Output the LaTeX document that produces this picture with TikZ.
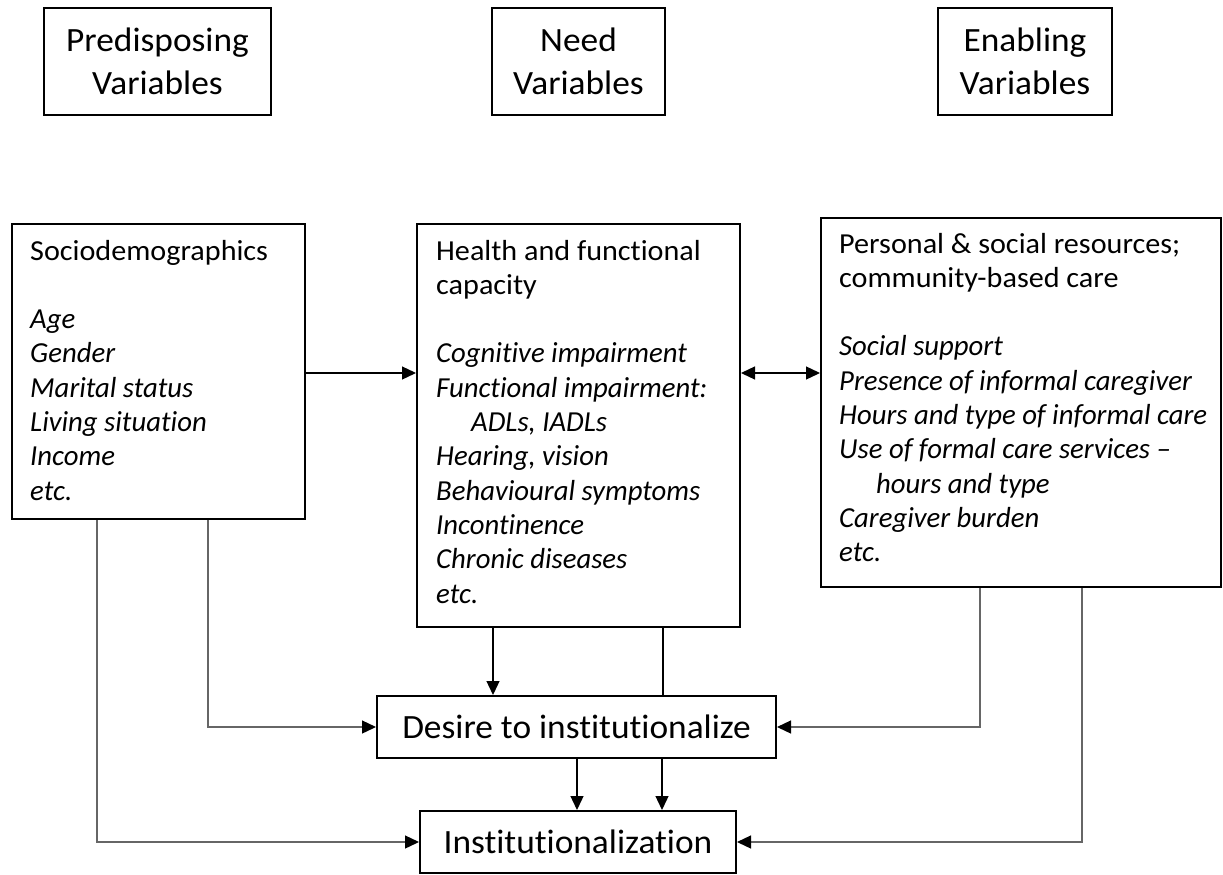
\documentclass[tikz,border=0pt]{standalone}
\usepackage{fontspec}
\setmainfont{Carlito}[Ligatures=NoCommon,
  UprightFeatures={FakeStretch=1.04},
  ItalicFeatures={FakeStretch=0.99}]
\usetikzlibrary{arrows.meta,calc}
\begin{document}
\begin{tikzpicture}[x=1pt,y=-1pt,
  box/.style={draw=black, line width=2pt, inner sep=0pt, anchor=north west},
  topbox/.style={draw=black, line width=2pt, inner sep=0pt, align=center,
    font=\fontsize{34}{43}\selectfont},
  midbox/.style={draw=black, line width=2pt, inner sep=0pt,
    font=\fontsize{34}{40}\selectfont},
  txt/.style={anchor=base west, inner sep=0pt, font=\fontsize{29}{34.3}\selectfont},
  arr/.style={line width=1.3pt, draw=black, -{Triangle[length=14pt,width=13pt]}},
  darr/.style={line width=1.3pt, draw=black, {Triangle[length=14pt,width=13pt]}-{Triangle[length=14pt,width=13pt]}},
  garr/.style={line width=1.3pt, draw=black!60, -{Triangle[length=14pt,width=13pt,fill=black,color=black]}},
  plain/.style={line width=1.3pt, draw=black}]
\useasboundingbox (0,0) rectangle (1223,875);

% header boxes
\node[topbox, minimum width=227pt, minimum height=107pt] (pre) at (157.5,61.5) {Predisposing\\Variables};
\node[topbox, minimum width=173pt, minimum height=107pt] (need) at (578.5,61.5) {Need\\Variables};
\node[topbox, minimum width=174pt, minimum height=107pt] (ena) at (1025,61.5) {Enabling\\Variables};

% main boxes
\node[box, minimum width=293pt, minimum height=295pt] (socio) at (11,223) {};
\node[box, minimum width=323pt, minimum height=403pt] (health) at (416,223) {};
\node[box, minimum width=400pt, minimum height=369pt] (enab) at (820,217) {};

\node[txt] (sociot) at (30,260) {\parbox[t]{270pt}{Sociodemographics\\[34.3pt]
\textit{Age}\\
\textit{Gender}\\
\textit{Marital status}\\
\textit{Living situation}\\
\textit{Income}\\
\textit{etc.}}};

\node[txt] (healtht) at (436,260) {\parbox[t]{300pt}{Health and functional\\
capacity\\[34.3pt]
\textit{Cognitive impairment}\\
\textit{Functional impairment:}\\
\hspace*{35pt}\textit{ADLs, IADLs}\\
\textit{Hearing, vision}\\
\textit{Behavioural symptoms}\\
\textit{Incontinence}\\
\textit{Chronic diseases}\\
\textit{etc.}}};

\node[txt] (enabt) at (839,253) {\parbox[t]{380pt}{Personal \& social resources;\\
community-based care\\[34.3pt]
\textit{Social support}\\
\textit{Presence of informal caregiver}\\
\textit{Hours and type of informal care}\\
\textit{Use of formal care services –}\\
\hspace*{37pt}\textit{hours and type}\\
\textit{Caregiver burden}\\
\textit{etc.}}};

% outcome boxes
\node[midbox, minimum width=399pt, minimum height=62pt] (desire) at (576.5,727) {Desire to institutionalize};
\node[midbox, minimum width=316pt, minimum height=62pt] (inst) at (578,842) {Institutionalization};

% connectors
\draw[arr] ([yshift=-1.5pt]socio.east) -- ([yshift=-1.5pt]health.west |- socio.east);
\draw[darr] ([yshift=-1.5pt]health.east |- socio.east) -- ([yshift=-1.5pt]enab.west |- socio.east);

\draw[arr] ([xshift=77pt]health.south west) -- ([xshift=77pt]health.south west |- desire.north);
\draw[plain] ([xshift=247pt]health.south west) -- ([xshift=247pt]health.south west |- desire.north);

\draw[arr] ([xshift=201pt]desire.south west) -- ([xshift=201pt]desire.south west |- inst.north);
\draw[arr] ([xshift=286pt]desire.south west) -- ([xshift=286pt]desire.south west |- inst.north);

\draw[garr] ([xshift=197pt]socio.south west) |- (desire.west);
\draw[garr] ([xshift=86pt]socio.south west) |- (inst.west);
\draw[garr] ([xshift=160pt]enab.south west) |- (desire.east);
\draw[garr] ([xshift=262pt]enab.south west) |- (inst.east);
\end{tikzpicture}
\end{document}
